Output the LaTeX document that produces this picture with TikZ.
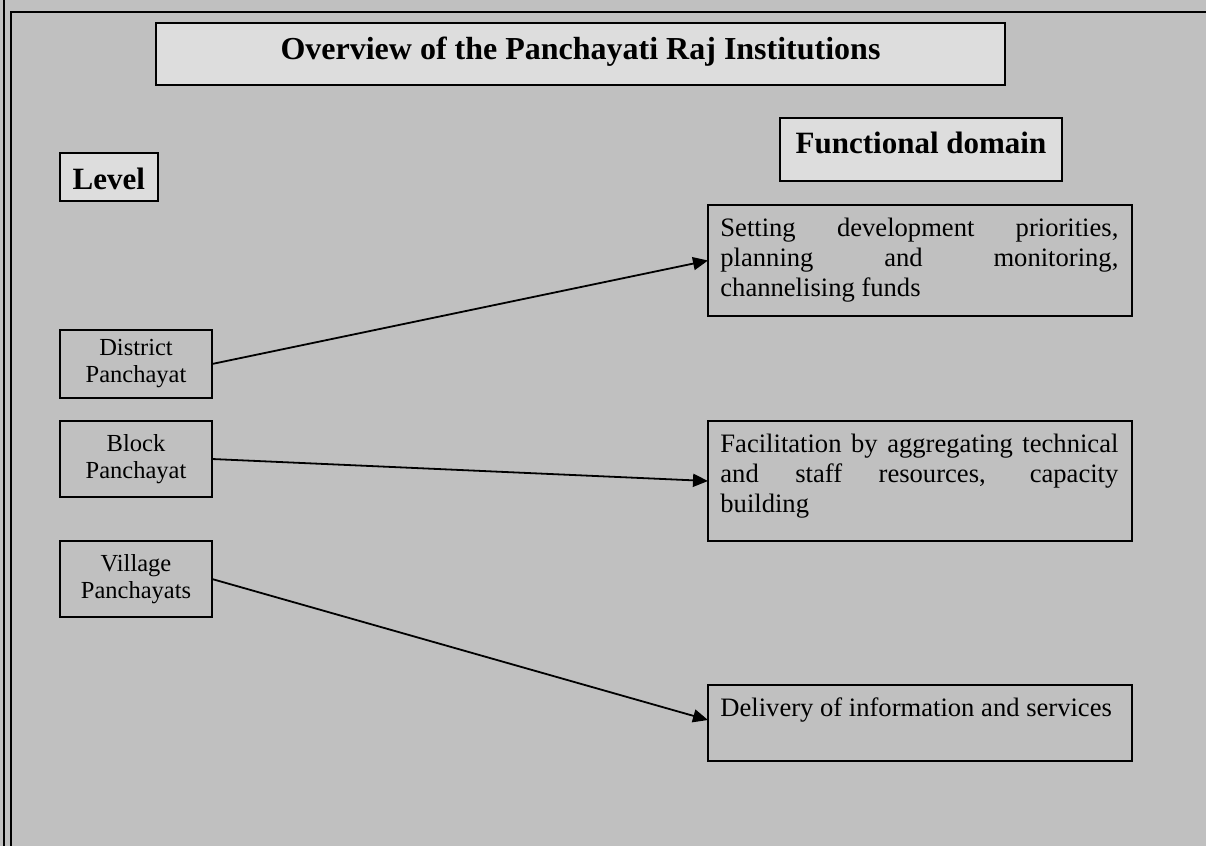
\documentclass[tikz,border=0pt]{standalone}
\usepackage{fontspec}
\setmainfont{Liberation Serif}
\usetikzlibrary{arrows.meta}
\definecolor{pagebg}{HTML}{C0C0C0}
\definecolor{hdrfill}{HTML}{DDDDDD}
\begin{document}
\begin{tikzpicture}[x=0.5pt,y=-0.5pt,
  frameline/.style={line width=1.3pt},
  hdrbox/.style={draw, line width=1pt, fill=hdrfill, inner sep=0pt, outer sep=0pt, font=\bfseries\fontsize{15.5}{18}\selectfont},
  lvlbox/.style={draw, line width=1pt, inner sep=0pt, outer sep=0pt, minimum width=76pt, minimum height=34pt, align=center, font=\fontsize{12.25}{13.5}\selectfont},
  fnbox/.style={draw, line width=1pt, inner sep=0pt, outer sep=0pt, minimum width=212pt},
  fntext/.style={inner sep=0pt, anchor=north west, align=left, font=\fontsize{13.3}{15}\selectfont},
  arr/.style={line width=0.9pt, -{Triangle[length=7.5pt,width=6.5pt]}}
]
\fill[pagebg] (0,0) rectangle (1206,846);
\useasboundingbox (0,0) rectangle (1206,846);
\draw[frameline] (4,0) -- (4,846);
\draw[frameline] (11,846) -- (11,12) -- (1206,12);

\node[hdrbox, minimum width=424.5pt, text height=18.5pt, text depth=12.5pt, font=\bfseries\fontsize{16}{19}\selectfont] (title) at (580.5,54) {Overview of the Panchayati Raj Institutions};
\node[hdrbox, minimum width=48.75pt, text height=18pt, text depth=6pt] (level) at (108.75,177) {Level};
\node[hdrbox, minimum width=141pt, text height=17.65pt, text depth=13.85pt] (domain) at (921,149.5) {Functional domain};

\node[lvlbox] (district) at (136,364) {District\\Panchayat};
\node[lvlbox, minimum height=38pt] (block) at (136,459) {Block\\Panchayat};
\node[lvlbox, minimum height=38pt] (village) at (136,579) {Village\\Panchayats};

\node[fnbox, minimum height=55.5pt] (f1) at (920,260.5) {};
\node[fntext] (f1t) at (720,217.8) {\makebox[199pt][s]{Setting development priorities,}\\\makebox[199pt][s]{planning and monitoring,}\\channelising funds};
\node[fnbox, minimum height=60pt] (f2) at (920,481) {};
\node[fntext] (f2t) at (720,433.5) {\makebox[199pt][s]{Facilitation by aggregating technical}\\\makebox[199pt][s]{and staff resources, capacity}\\building};
\node[fnbox, minimum height=38pt] (f3) at (920,723) {};
\node[fntext] (f3t) at (720,697.8) {Delivery of information and services};
\coordinate (f3in) at ([yshift=1.5pt]f3.west);

\draw[arr] (district.east) -- (f1.west);
\draw[arr] (block.east) -- (f2.west);
\draw[arr] (village.east) -- (f3in);
\end{tikzpicture}
\end{document}
